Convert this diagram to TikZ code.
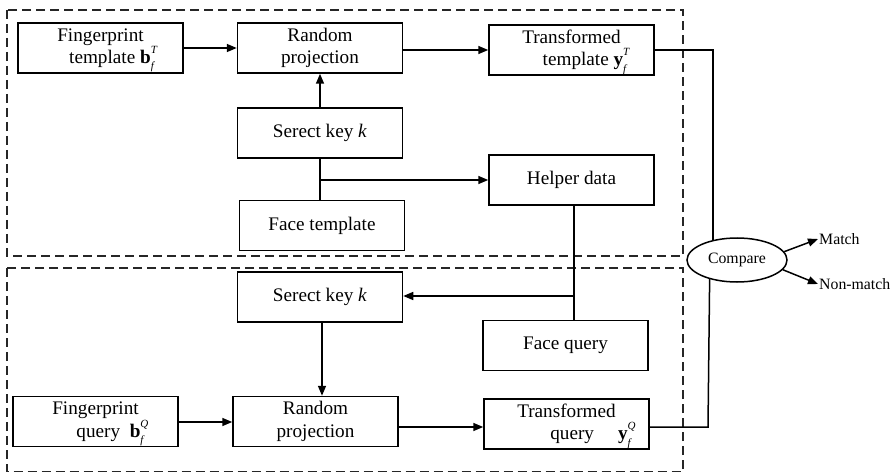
\documentclass[tikz,border=0pt]{standalone}
\usepackage{fontspec}
\setmainfont{Liberation Serif}
\usetikzlibrary{arrows.meta,shapes.geometric}
\newcommand{\supsubx}[3]{#1\smash{\rlap{\raisebox{0.52em}{\fontsize{11}{11}\selectfont\itshape #2}}\raisebox{-0.32em}{\fontsize{11}{11}\selectfont\itshape #3}}}
\begin{document}
\begin{tikzpicture}[x=1pt,y=-1pt,
  box/.style={draw, line width=1.5pt, minimum width=165pt, minimum height=50pt, inner sep=1pt, align=center, font=\fontsize{19.2}{22.5}\selectfont},
  conn/.style={line width=1.5pt},
  arr/.style={conn, -{Triangle[length=10pt,width=8pt]}},
  region/.style={draw, line width=1.3pt, dash pattern=on 9pt off 5pt, black!85},
  small/.style={font=\fontsize{15.8}{18}\selectfont, inner sep=1pt}]
\useasboundingbox (0,0) rectangle (894,473);
% regions
\draw[region] (7,10) rectangle (683,256);
\draw[region] (7,268) rectangle (683,471.5);
% enrollment
\node[box] (fpT) at (100.5,48) {Fingerprint\\\hspace*{22pt}template \supsubx{\textbf{b}}{T}{f}};
\node[box] (rpT) at (320,48) {Random\\projection};
\node[box] (ttT) at (571.5,50) {Transformed\\\hspace*{26pt}template \supsubx{\textbf{y}}{T}{f}};
\node[box] (skT) at (320,133) {Serect key \textit{k}};
\node[box] (ftT) at (322,225.5) {Face template};
\node[box] (hd) at (571.5,180) {Helper data};
% query
\node[box] (skQ) at (320,297) {Serect key \textit{k}};
\node[box] (fq) at (565.5,345.5) {Face query};
\node[box] (fpQ) at (95.5,421.5) {Fingerprint\\\hspace*{29pt}query\ \ \supsubx{\textbf{b}}{Q}{f}};
\node[box] (rpQ) at (315.5,421.5) {Random\\projection};
\node[box] (tq) at (566.5,424) {Transformed\\\hspace*{48pt}query\quad\ \supsubx{\textbf{y}}{Q}{f}};
% compare
\node[draw, ellipse, line width=1.5pt, minimum width=100pt, minimum height=44pt, inner sep=0pt, small] (cmp) at (737,260) {Compare};
\node[small, anchor=west] (match) at (818,239) {Match};
\node[small, anchor=west] (nonmatch) at (818,284) {Non-match};
% connectors
\draw[arr] (fpT) -- (rpT);
\draw[arr] (rpT.east |- ttT.west) -- (ttT.west);
\draw[arr] (skT) -- (rpT);
\draw[conn] (ftT.north -| skT.south) -- (skT.south);
\coordinate (br) at (skT.south |- hd.west);
\draw[arr] (br) -- (hd.west);
\coordinate (hdown) at (574,0);
\draw[conn] (hd.south -| hdown) -- (fq.north -| hdown);
\coordinate (hq) at (574,296);
\draw[arr] (hq) -- (hq -| skQ.east);
\draw[arr] (skQ.south -| 322,0) -- (rpQ.north -| 322,0);
\draw[arr] (fpQ.east |- 0,422) -- (rpQ.west |- 0,422);
\draw[arr] (rpQ.east |- 0,427) -- (tq.west |- 0,427);
\draw[conn] (ttT.east) -| (cmp.140);
\coordinate (cq) at (708,427);
\draw[conn] (tq.east |- cq) -- (cq) -- (cmp.215);
\draw[arr] (cmp.10) -- (match.west);
\draw[arr] (cmp.-12) -- (nonmatch.west);
\end{tikzpicture}
\end{document}
